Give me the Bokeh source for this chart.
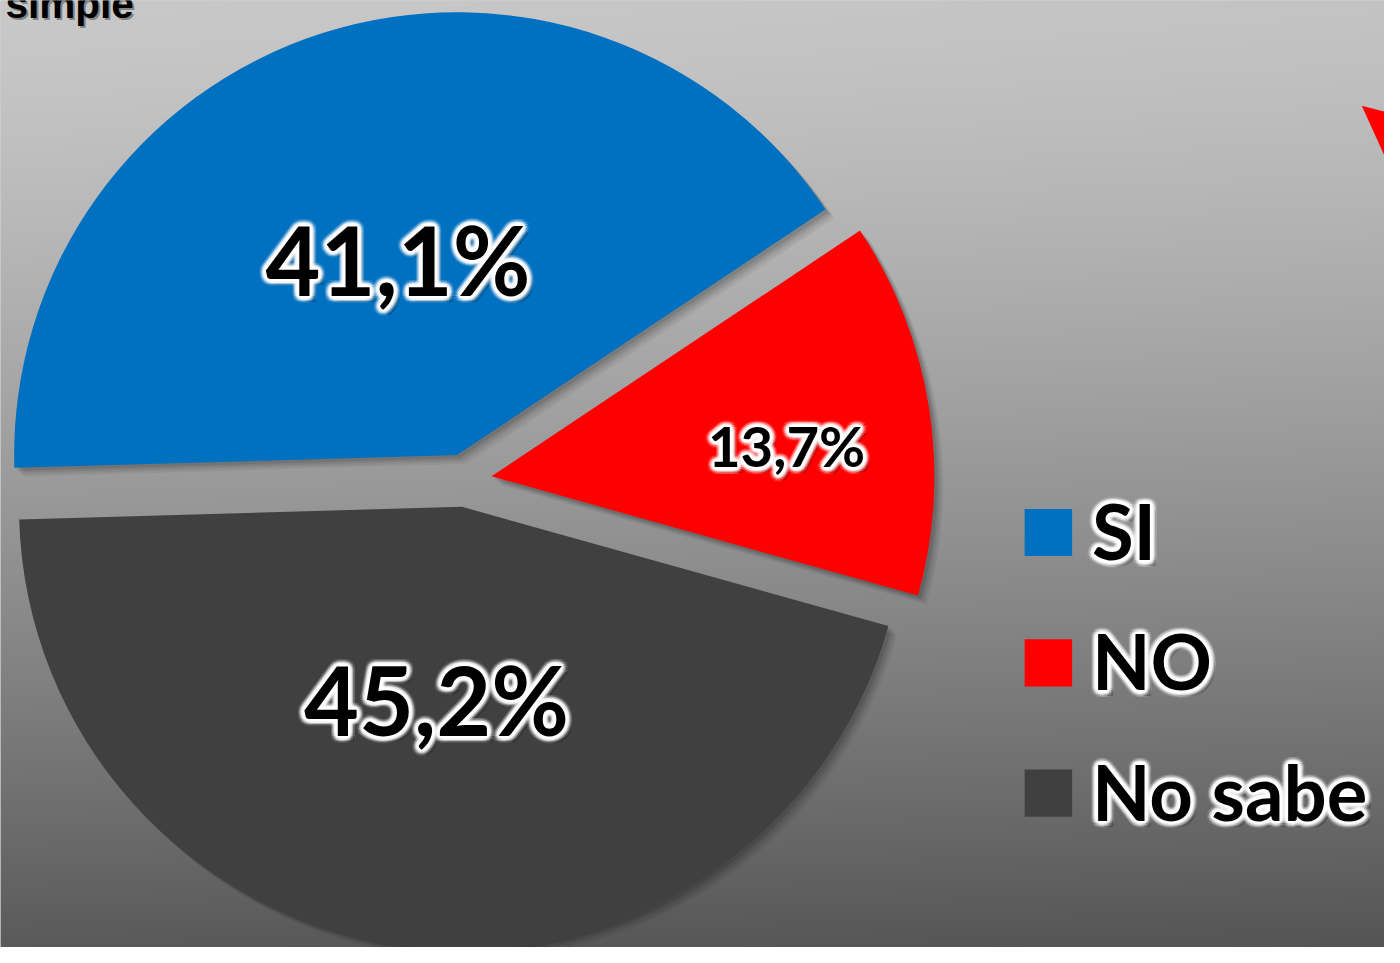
import numpy as np
from bokeh.plotting import figure
from bokeh.models import Range1d, ColumnDataSource
from bokeh.core.properties import value
from bokeh.embed import file_html
from bokeh.resources import INLINE

# ---- data ----
categories = ["SI", "NO", "No sabe"]
percent = [41.1, 13.7, 45.2]
colors = ["#0070C0", "#FF0000", "#404040"]
title_fragment = "simple"

# ---- style / layout (reference pixel space, y measured up from bottom) ----
W, H = 1400, 963
PW, PH = 1384, 947
K = PW / W                      # px scale for font sizes
cx, cy = 470.0, H - 488.0
R = 448.0
explode = 27.0
start_deg = 181.65            # first slice begins here and runs clockwise
label_frac = [0.465, 0.67, 0.44]
label_dang = [-1.0, -3.0, -0.5]
label_size = [96, 57, 96]
FONT = "Lato"

p = figure(width=PW, height=PH, output_backend="svg", toolbar_location=None,
           x_range=Range1d(0, W), y_range=Range1d(0, H), min_border=0,
           tools="")
p.axis.visible = False
p.grid.visible = False
p.outline_line_color = None
p.background_fill_color = "#a0a0a0"
p.border_fill_color = "#a0a0a0"

# background gradient
ys = np.arange(H)
t = 1.0 - ys / (H - 1.0)          # 0 at top, 1 at bottom (rows are bottom-up)
xs = np.arange(W)
val = 201 - 111 * t[:, None] ** 1.3 - 0.004 * xs[None, :]
val = np.clip(val, 0, 255).astype(np.uint8)
img = np.zeros((H, W), dtype=np.uint32)
view = img.view(dtype=np.uint8).reshape((H, W, 4))
view[:, :, 0] = val
view[:, :, 1] = val
view[:, :, 2] = val
view[:, :, 3] = 255
p.image_rgba(image=[img], x=0, y=0, dw=W, dh=H)

# slices
fr = np.array(percent) / sum(percent)
ends = start_deg - np.cumsum(fr) * 360.0
starts = np.concatenate([[start_deg], ends[:-1]])
mids = (starts + ends) / 2.0
vx = cx + explode * np.cos(np.radians(mids))
vy = cy + explode * np.sin(np.radians(mids))

src = ColumnDataSource(dict(x=vx, y=vy, s=np.radians(ends), e=np.radians(starts), c=colors))

# soft shadows
for off, a in [(9, 0.05), (7, 0.06), (5, 0.08), (3, 0.10)]:
    sh = ColumnDataSource(dict(x=vx + off, y=vy - off, s=np.radians(ends), e=np.radians(starts)))
    p.wedge(x="x", y="y", radius=R, start_angle="s", end_angle="e", source=sh,
            fill_color="black", fill_alpha=a, line_color=None)

p.wedge(x="x", y="y", radius=R, start_angle="s", end_angle="e", source=src,
        fill_color="c", line_color=None)


def glow_text(x, y, texts, size, font, align="center"):
    s = ColumnDataSource(dict(x=x, y=y, t=texts))
    common = dict(x="x", y="y", text="t", source=s, text_font=value(font),
                  text_font_size=f"{size * K:.1f}px", text_font_style="bold",
                  text_align=align, text_baseline="middle")
    # dark drop shadow
    p.text(**common, x_offset=6, y_offset=6, text_color="black", text_alpha=0.22)
    # white glow rings
    for rr, a in [(7, 0.10), (5.5, 0.18), (4, 0.3), (2.5, 0.55), (1.2, 0.9)]:
        for k in range(16):
            ang = 2 * np.pi * k / 16
            p.text(**common, x_offset=rr * np.cos(ang), y_offset=rr * np.sin(ang),
                   text_color="white", text_alpha=a)
    p.text(**common, text_color="black")


# slice labels (anchor = centre of the glyphs)
for i in range(len(categories)):
    ang = np.radians(mids[i] + label_dang[i])
    lx = vx[i] + label_frac[i] * R * np.cos(ang)
    ly = vy[i] + label_frac[i] * R * np.sin(ang)
    txt = f"{percent[i]:.1f}".replace(".", ",") + "%"
    glow_text([lx], [ly], [txt], label_size[i], FONT)

# legend
leg_x, leg_top, leg_gap, box = 1036, H - 541, 132.5, 48
lys = [leg_top - i * leg_gap for i in range(len(categories))]
p.rect(x=[leg_x + box / 2] * 3, y=lys, width=box, height=box, fill_color=colors, line_color=None)
glow_text([1104] * 3, [y + 2 for y in lys], categories, 77, FONT, align="left")

# cut-off title fragment
ts = ColumnDataSource(dict(x=[5], y=[H - 4], t=[title_fragment]))
tcommon = dict(x="x", y="y", text="t", source=ts, text_font=value("Liberation Sans"),
               text_font_size=f"{41 * K:.1f}px", text_font_style="bold", text_baseline="middle")
p.text(**tcommon, x_offset=2, y_offset=2, text_color="#555555", text_alpha=0.6)
p.text(**tcommon, text_color="black")

# red arrow fragment at top-right corner (decoration)
p.patch(x=[1377, 1400, 1400], y=[H - 107, H - 113, H - 158], fill_color="#FF0000",
        line_color=None)

open("out.html", "w").write(file_html(p, INLINE))
